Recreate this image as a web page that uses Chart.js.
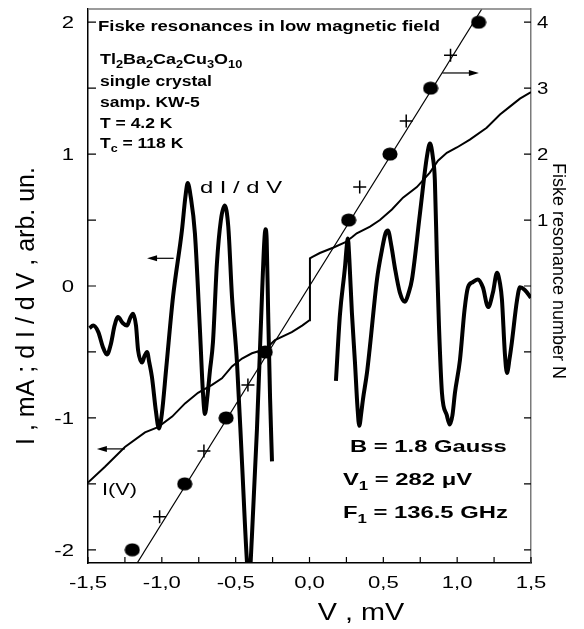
<!DOCTYPE html>
<html>
<head>
<meta charset="utf-8">
<script src="https://cdn.jsdelivr.net/npm/chart.js@4.4.1/dist/chart.umd.min.js"></script>
<style>
  html, body { margin: 0; padding: 0; background: #fff; }
  #wrap { width: 584px; height: 629px; position: relative; }
</style>
</head>
<body>
<div id="wrap"><canvas id="fiske"></canvas></div>
<script>
// dI/dV trace, left of the gap (V in mV, arb. units on the left axis)
const didvLeftV = [-1.49, -1.465, -1.43, -1.40, -1.372, -1.345, -1.32, -1.297, -1.265, -1.236,
  -1.215, -1.195, -1.175, -1.161, -1.134, -1.117, -1.10, -1.085, -1.067, -1.04, -1.02, -1.00,
  -0.97, -0.924, -0.864, -0.84, -0.825, -0.805, -0.776, -0.742, -0.722, -0.708, -0.69, -0.674,
  -0.654, -0.627, -0.60, -0.574, -0.55, -0.525, -0.491, -0.457, -0.423, -0.41, -0.39, -0.356,
  -0.322, -0.306, -0.298, -0.29, -0.28, -0.267, -0.254];
const didvLeftY = [-0.32, -0.30, -0.35, -0.46, -0.52, -0.44, -0.30, -0.235, -0.28, -0.30,
  -0.245, -0.21, -0.30, -0.485, -0.58, -0.53, -0.50, -0.58, -0.69, -0.95, -1.08, -0.97,
  -0.62, -0.08, 0.42, 0.68, 0.78, 0.68, 0.40, -0.33, -0.80, -0.97, -0.82, -0.64,
  -0.43, 0.17, 0.50, 0.61, 0.45, -0.08, -0.58, -1.34, -2.10, -2.25, -1.90, -1.09,
  -0.08, 0.34, 0.43, 0.35, -0.20, -0.85, -1.33];

// dI/dV trace, right of the gap
const didvRightV = [0.179, 0.206, 0.24, 0.252, 0.26, 0.27, 0.287, 0.308, 0.325, 0.337, 0.352,
  0.362, 0.389, 0.409, 0.457, 0.49, 0.515, 0.531, 0.555, 0.578, 0.612, 0.646, 0.672, 0.694,
  0.748, 0.795, 0.816, 0.835, 0.849, 0.863, 0.877, 0.897, 0.93, 0.95, 0.968, 0.985, 1.019,
  1.05, 1.073, 1.107, 1.14, 1.174, 1.21, 1.242, 1.27, 1.29, 1.303, 1.323, 1.337, 1.355,
  1.37, 1.405, 1.425, 1.458, 1.5];
const didvRightY = [-0.72, -0.22, 0.14, 0.30, 0.36, 0.20, -0.20, -0.58, -0.92, -1.06, -0.95,
  -0.86, -0.66, -0.46, 0.05, 0.27, 0.40, 0.42, 0.30, 0.14, -0.05, -0.12, -0.05, 0.05,
  0.55, 0.98, 1.08, 0.98, 0.80, 0.20, -0.31, -0.81, -0.98, -1.05, -0.98, -0.81, -0.56,
  -0.18, -0.01, 0.03, 0.05, -0.01, -0.16, -0.05, 0.10, 0.02, -0.10, -0.51, -0.66, -0.55,
  -0.43, -0.11, -0.01, -0.03, -0.09];

// I(V) curve, mA
const ivV = [-1.5, -1.385, -1.25, -1.114, -1.026, -0.93, -0.843, -0.755, -0.66, -0.593,
  -0.525, -0.457, -0.39, -0.30, -0.234, -0.12, -0.05, 0.0, 0.003, 0.02, 0.07, 0.159, 0.24,
  0.287, 0.32, 0.41, 0.477, 0.558, 0.633, 0.727, 0.815, 0.87, 0.93, 0.998, 1.086, 1.2,
  1.29, 1.357, 1.425, 1.5];
const ivI = [-1.49, -1.37, -1.22, -1.11, -1.07, -0.99, -0.89, -0.81, -0.75, -0.70,
  -0.61, -0.55, -0.51, -0.48, -0.41, -0.35, -0.30, -0.26, 0.21, 0.22, 0.25, 0.29, 0.33,
  0.37, 0.40, 0.45, 0.50, 0.58, 0.67, 0.75, 0.86, 0.95, 1.01, 1.05, 1.11, 1.20,
  1.30, 1.36, 1.42, 1.47];

// Fiske steps: resonance number N (right axis) against voltage
const stepV = [-1.2, -0.845, -0.565, -0.30, 0.265, 0.545, 0.82, 1.145];
const stepN = [-4, -3, -2, -1, 1, 2, 3, 4];
const halfV = [-1.015, -0.715, -0.417, 0.34, 0.655, 0.955];
const halfN = [-3.5, -2.5, -1.5, 1.5, 2.5, 3.5];
const fitV = [-1.167, 1.167];
const fitN = [-4.2, 4.2];

function pts(xs, ys) { return xs.map((x, i) => ({ x: x, y: ys[i] })); }

// slightly wide filled dot like the original markers
const dot = document.createElement('canvas');
dot.width = 16; dot.height = 14;
(function () {
  const c = dot.getContext('2d');
  c.fillStyle = '#000';
  c.beginPath();
  c.ellipse(8, 7, 7.6, 6.6, 0, 0, Math.PI * 2);
  c.fill();
})();

const FONT = '"Liberation Sans", Arial, sans-serif';

// draws text runs (with subscripts), stretched horizontally by sx
function runs(ctx, parts, x, y, size, weight, sx, align) {
  const main = weight + ' ' + size + 'px ' + FONT;
  const sub = weight + ' ' + Math.round(size * 0.68) + 'px ' + FONT;
  let w = 0;
  parts.forEach(p => { ctx.font = p[1] ? sub : main; w += ctx.measureText(p[0]).width * sx; });
  let cx = align === 'center' ? x - w / 2 : align === 'right' ? x - w : x;
  parts.forEach(p => {
    ctx.font = p[1] ? sub : main;
    ctx.save();
    ctx.translate(cx, y + (p[1] ? size * 0.3 : 0));
    ctx.scale(sx, 1);
    ctx.textAlign = 'left';
    ctx.fillText(p[0], 0, 0);
    ctx.restore();
    cx += ctx.measureText(p[0]).width * sx;
  });
}

const arrowMarks = [
  { axis: 'y', from: -0.92, to: -1.10, at: 0.21 },
  { axis: 'y', from: -1.25, to: -1.44, at: -1.235 },
  { axis: 'y2', from: 0.90, to: 1.147, at: 3.23 }
];

const decor = {
  id: 'decor',
  afterDraw(chart) {
    const ctx = chart.ctx;
    const a = chart.chartArea;
    const sx = chart.scales.x, sy = chart.scales.y, sy2 = chart.scales.y2;
    ctx.save();
    // top frame line
    ctx.strokeStyle = '#7a7a7a';
    ctx.lineWidth = 1.5;
    ctx.beginPath(); ctx.moveTo(a.left, a.top); ctx.lineTo(a.right, a.top); ctx.stroke();

    // inward ticks
    ctx.strokeStyle = '#000';
    ctx.lineWidth = 1.2;
    ctx.beginPath();
    sx.ticks.forEach(t => {
      const p = sx.getPixelForValue(t.value);
      ctx.moveTo(p, a.bottom); ctx.lineTo(p, a.bottom - 6);
    });
    sy.ticks.forEach(t => {
      const p = sy.getPixelForValue(t.value);
      ctx.moveTo(a.left, p); ctx.lineTo(a.left + 8, p);
    });
    sy2.ticks.forEach(t => {
      const p = sy2.getPixelForValue(t.value);
      ctx.moveTo(a.right, p); ctx.lineTo(a.right - 7, p);
    });
    ctx.stroke();

    // arrows
    ctx.fillStyle = '#000';
    arrowMarks.forEach(m => {
      const ys = chart.scales[m.axis];
      const x1 = sx.getPixelForValue(m.from), x2 = sx.getPixelForValue(m.to);
      const y = ys.getPixelForValue(m.at);
      const dir = Math.sign(x2 - x1);
      ctx.beginPath(); ctx.moveTo(x1, y); ctx.lineTo(x2 - dir * 6, y); ctx.stroke();
      ctx.beginPath();
      ctx.moveTo(x2, y); ctx.lineTo(x2 - dir * 10, y - 3); ctx.lineTo(x2 - dir * 10, y + 3);
      ctx.closePath(); ctx.fill();
    });

    // tick labels
    ctx.textBaseline = 'alphabetic';
    sx.ticks.forEach(t => {
      const v = Math.round(t.value * 100) / 100;
      if (Math.abs(v * 2 - Math.round(v * 2)) > 1e-6) return;
      const s = (Math.abs(v) < 1e-9 ? 0 : v).toFixed(1).replace('.', ',');
      runs(ctx, [[s]], sx.getPixelForValue(t.value), 588, 17, 'normal', 1.3, 'center');
    });
    sy.ticks.forEach(t => {
      const v = Math.round(t.value * 100) / 100;
      if (Math.abs(v - Math.round(v)) > 1e-6) return;
      runs(ctx, [[String(Math.round(v))]], 74, sy.getPixelForValue(t.value) + 6, 17, 'normal', 1.3, 'right');
    });
    sy2.ticks.forEach(t => {
      const v = Math.round(t.value);
      if (v < 1) return;
      runs(ctx, [[String(v)]], 537, sy2.getPixelForValue(t.value) + 6, 17, 'normal', 1.2, 'left');
    });

    // axis titles
    runs(ctx, [['V , mV']], 361, 620, 24, 'normal', 1.2, 'center');
    ctx.font = '25px ' + FONT;
    ctx.textAlign = 'center';
    ctx.textBaseline = 'middle';
    ctx.save();
    ctx.translate(27, 306); ctx.rotate(-Math.PI / 2);
    ctx.fillText('I , mA ; d I / d V , arb. un.', 0, 0);
    ctx.restore();
    ctx.font = '18px ' + FONT;
    ctx.save();
    ctx.translate(558, 271); ctx.rotate(Math.PI / 2);
    ctx.fillText('Fiske resonance number N', 0, 0);
    ctx.restore();
    ctx.textBaseline = 'alphabetic';

    // annotations
    runs(ctx, [['Fiske resonances in low magnetic field']], 98, 31, 14, 'bold', 1.32, 'left');
    runs(ctx, [['Tl'], ['2', 1], ['Ba'], ['2', 1], ['Ca'], ['2', 1], ['Cu'], ['3', 1], ['O'], ['10', 1]],
      100, 64, 14, 'bold', 1.28, 'left');
    runs(ctx, [['single crystal']], 100, 86, 14, 'bold', 1.25, 'left');
    runs(ctx, [['samp. KW-5']], 100, 107, 14, 'bold', 1.25, 'left');
    runs(ctx, [['T = 4.2 K']], 100, 128, 14, 'bold', 1.25, 'left');
    runs(ctx, [['T'], ['c', 1], [' = 118 K']], 100, 148, 14, 'bold', 1.25, 'left');
    runs(ctx, [['d I / d V']], 200, 193, 17, 'normal', 1.4, 'left');
    runs(ctx, [['I(V)']], 102, 495, 17, 'normal', 1.28, 'left');
    runs(ctx, [['B = 1.8 Gauss']], 350, 452, 17, 'bold', 1.4, 'left');
    runs(ctx, [['V'], ['1', 1], [' = 282 \u03bcV']], 343, 485, 17, 'bold', 1.4, 'left');
    runs(ctx, [['F'], ['1', 1], [' = 136.5 GHz']], 343, 518, 17, 'bold', 1.4, 'left');
    ctx.restore();
  }
};

new Chart(document.getElementById('fiske'), {
  type: 'scatter',
  data: {
    datasets: [
      { data: pts(stepV, stepN), yAxisID: 'y2', pointStyle: dot, pointRadius: 7, showLine: false },
      { data: pts(halfV, halfN), yAxisID: 'y2', pointStyle: 'cross', pointRadius: 6.5,
        pointBorderWidth: 1.5, borderColor: '#000', showLine: false },
      { data: pts(didvLeftV, didvLeftY), yAxisID: 'y', showLine: true, borderColor: '#000',
        borderWidth: 4, pointRadius: 0, cubicInterpolationMode: 'monotone' },
      { data: pts(didvRightV, didvRightY), yAxisID: 'y', showLine: true, borderColor: '#000',
        borderWidth: 4, pointRadius: 0, cubicInterpolationMode: 'monotone' },
      { data: pts(ivV, ivI), yAxisID: 'y', showLine: true, borderColor: '#000',
        borderWidth: 2, pointRadius: 0, tension: 0 },
      { data: pts(fitV, fitN), yAxisID: 'y2', showLine: true, borderColor: '#000',
        borderWidth: 1.2, pointRadius: 0 }
    ]
  },
  options: {
    responsive: true,
    maintainAspectRatio: false,
    animation: false,
    layout: { padding: { top: 9, left: 0, right: 0, bottom: 0 } },
    plugins: { legend: { display: false }, tooltip: { enabled: false } },
    scales: {
      x: {
        type: 'linear', min: -1.5, max: 1.5,
        ticks: { stepSize: 0.25, display: false },
        grid: { display: false },
        border: { display: true, color: '#000', width: 1.5 },
        afterFit: s => { s.height = 66; }
      },
      y: {
        position: 'left', min: -2.1, max: 2.1,
        ticks: { stepSize: 0.5, includeBounds: false, display: false },
        grid: { display: false },
        border: { display: true, color: '#000', width: 1.5 },
        afterFit: s => { s.width = 88; }
      },
      y2: {
        position: 'right', min: -4.2, max: 4.2,
        ticks: { stepSize: 1, includeBounds: false, display: false },
        grid: { display: false },
        border: { display: true, color: '#7a7a7a', width: 1.5 },
        afterFit: s => { s.width = 53; }
      }
    }
  },
  plugins: [decor]
});
</script>
</body>
</html>
